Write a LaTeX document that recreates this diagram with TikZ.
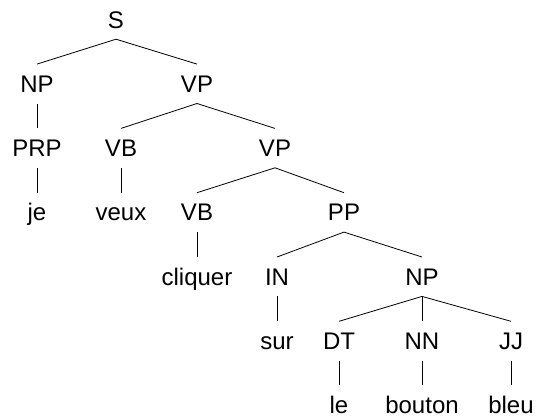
\documentclass[tikz,border=0pt]{standalone}
\usepackage{fontspec}
\setmainfont{Liberation Sans}
\usepackage{tikz}

\begin{document}
\begin{tikzpicture}[x=1pt, y=-1pt, tag/.style={anchor=base, text height=17pt, text depth=0pt, inner ysep=11pt, inner xsep=0pt, font=\fontsize{24}{28}\selectfont}, branch/.style={line width=.8pt}]
		\useasboundingbox(0, 0) rectangle (536, 416);
		% labels, row by row
		\node[tag](s) at (116, 28){S};
		\node[tag](np) at (37, 92.3){NP};
		\node[tag](vp) at (197, 92.3){VP};
		\node[tag](prp) at (37, 156.6){PRP};
		\node[tag](vbA) at (121, 156.6){VB};
		\node[tag](vpB) at (275, 156.6){VP};
		\node[tag](je) at (37, 220.9){je};
		\node[tag](veux) at (121, 220.9){veux};
		\node[tag](vbB) at (197, 220.9){VB};
		\node[tag](pp) at (344, 220.9){PP};
		\node[tag](cliquer) at (197, 285.2){cliquer};
		\node[tag](in) at (277, 285.2){IN};
		\node[tag](npB) at (422, 285.2){NP};
		\node[tag](sur) at (277, 349.5){sur};
		\node[tag](dt) at (339, 349.5){DT};
		\node[tag](nn) at (422, 349.5){NN};
		\node[tag](jj) at (511, 349.5){JJ};
		\node[tag](le) at (339, 413.5){le};
		\node[tag](bouton) at (422, 413.5){bouton};
		\node[tag](bleu) at (511, 413.5){bleu};
		% branches
		\draw[branch](np.north)--(s.south)--(vp.north);
		\draw[branch](np.south)--(prp.north);
		\draw[branch](prp.south)--(je.north);
		\draw[branch](vbA.north)--(vp.south)--(vpB.north);
		\draw[branch](vbA.south)--(veux.north);
		\draw[branch](vbB.north)--(vpB.south)--(pp.north);
		\draw[branch](vbB.south)--(cliquer.north);
		\draw[branch](in.north)--(pp.south)--(npB.north);
		\draw[branch](in.south)--(sur.north);
		\draw[branch](dt.north)--(npB.south)--(jj.north);
		\draw[branch](npB.south)--(nn.north);
		\draw[branch](dt.south)--(le.north);
		\draw[branch](nn.south)--(bouton.north);
		\draw[branch](jj.south)--(bleu.north);
	\end{tikzpicture}
\end{document}
